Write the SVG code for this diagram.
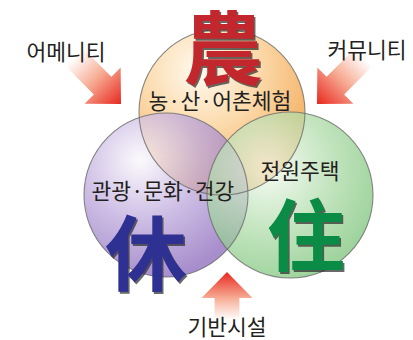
<svg xmlns="http://www.w3.org/2000/svg" width="413" height="340" viewBox="0 0 413 340">
<style>
.lbl{font-family:"Noto Sans CJK KR","Noto Sans",sans-serif;font-size:21.5px;fill:#231f20;text-anchor:middle}
.han{font-family:"Noto Sans CJK SC","Noto Sans CJK KR",serif;font-weight:700;text-anchor:middle}
.shd{fill:#2a2a2a;opacity:0.7}
.ring{fill:none;stroke:#6b6b6b;stroke-width:1.1;stroke-opacity:0.8}
</style>
<defs>
<radialGradient id="gO" cx="200" cy="70" r="115" gradientUnits="userSpaceOnUse">
<stop offset="0" stop-color="#fffaf0"/>
<stop offset="0.5" stop-color="#fbd6a2"/>
<stop offset="1" stop-color="#f4a955"/>
</radialGradient>
<radialGradient id="gP" cx="140" cy="160" r="120" gradientUnits="userSpaceOnUse">
<stop offset="0" stop-color="#faf8fc"/>
<stop offset="0.5" stop-color="#bda8dc"/>
<stop offset="1" stop-color="#8a68bb"/>
</radialGradient>
<radialGradient id="gG" cx="268" cy="168" r="120" gradientUnits="userSpaceOnUse">
<stop offset="0" stop-color="#f4faf1"/>
<stop offset="0.5" stop-color="#b0dcaa"/>
<stop offset="1" stop-color="#74c072"/>
</radialGradient>
<linearGradient id="gA" x1="0" y1="0" x2="1" y2="0">
<stop offset="0" stop-color="#ffffff"/>
<stop offset="0.45" stop-color="#f7ae96"/>
<stop offset="1" stop-color="#e8281f"/>
</linearGradient>
<polygon id="arrow" points="0,0 -26,-25.5 -26,-12.4 -66,-12.4 -66,12.4 -26,12.4 -26,25.5" fill="url(#gA)"/>
<polygon id="arrowS" points="0,0 -26,-25.5 -26,-12.4 -48,-12.4 -48,12.4 -26,12.4 -26,25.5" fill="url(#gA)"/>
</defs>
<rect width="413" height="340" fill="#ffffff"/>

<g id="circles">
<g id="farm"><circle cx="222" cy="112" r="83" fill="url(#gO)" fill-opacity="0.88"/></g>
<g id="leisure"><circle cx="166" cy="195" r="82" fill="url(#gP)" fill-opacity="0.75"/></g>
<g id="home"><circle cx="290" cy="195" r="83" fill="url(#gG)" fill-opacity="0.72"/></g>
<circle class="ring" cx="222" cy="112" r="83"/>
<circle class="ring" cx="166" cy="195" r="82"/>
<circle class="ring" cx="290" cy="195" r="83"/>
</g>

<g id="connectors">
<use href="#arrow" transform="translate(121,104) rotate(45)"/>
<use href="#arrow" transform="translate(317,104) rotate(135)"/>
<use href="#arrowS" transform="translate(227,272) rotate(-90)"/>
</g>

<g id="n-farm">
<text class="han shd" x="224.5" y="79.5" font-size="80">農</text>
<text class="han" x="223" y="78" font-size="80" fill="#c1272d">農</text>
<text class="lbl" x="220" y="109">농·산·어촌체험</text>
</g>
<g id="n-leisure">
<text class="lbl" x="163" y="199">관광·문화·건강</text>
<text class="han shd" x="147.5" y="285.5" font-size="82">休</text>
<text class="han" x="146" y="284" font-size="82" fill="#2e3192">休</text>
</g>
<g id="n-home">
<text class="lbl" x="300" y="179">전원주택</text>
<text class="han shd" x="307.5" y="266.5" font-size="78">住</text>
<text class="han" x="306" y="265" font-size="78" fill="#0a8c47">住</text>
</g>
<g id="n-amenity"><text class="lbl" x="66" y="60">어메니티</text></g>
<g id="n-community"><text class="lbl" x="367" y="58">커뮤니티</text></g>
<g id="n-infra"><text class="lbl" x="227" y="335">기반시설</text></g>
</svg>
